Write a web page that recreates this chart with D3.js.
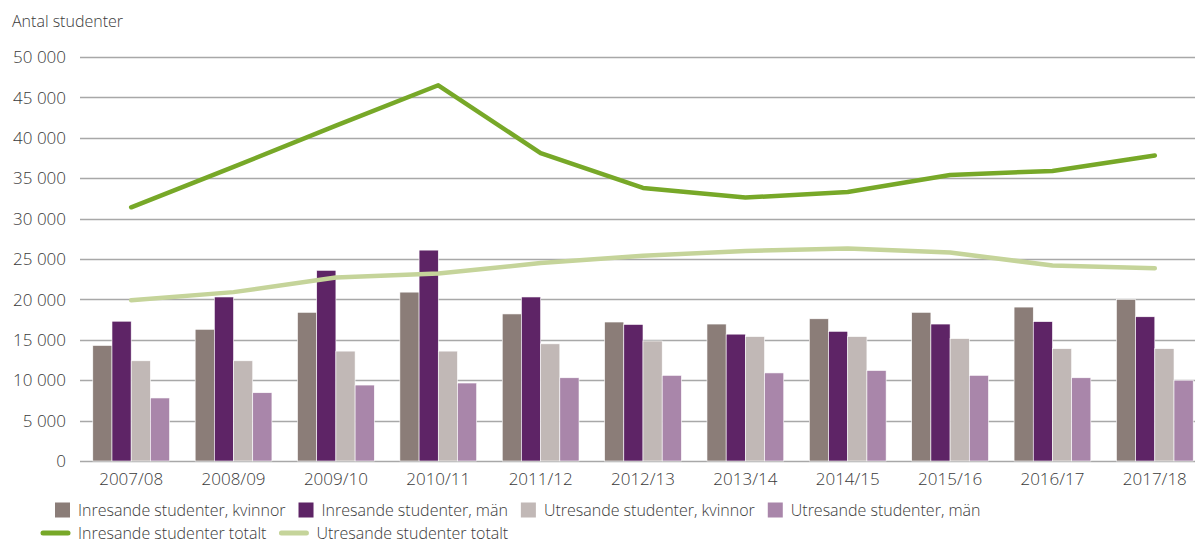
<!DOCTYPE html>
<html>
<head>
<meta charset="utf-8">
<script src="https://cdn.jsdelivr.net/npm/d3@7"></script>
<style>
  body { margin: 0; background: #fff; }
  svg text { font-family: "Open Sans", "Lato", sans-serif; font-weight: 300; fill: #3a3a3a; }
</style>
</head>
<body>
<div id="chart"></div>
<script>
// data
var years = ["2007/08", "2008/09", "2009/10", "2010/11", "2011/12", "2012/13",
             "2013/14", "2014/15", "2015/16", "2016/17", "2017/18"];
var inKvinnor = [14300, 16300, 18400, 20900, 18200, 17200, 16950, 17600, 18400, 19050, 20000];
var inMan     = [17300, 20300, 23600, 26100, 20300, 16900, 15700, 16050, 16950, 17250, 17850];
var utKvinnor = [12400, 12400, 13600, 13600, 14500, 14850, 15400, 15400, 15150, 13900, 13900];
var utMan     = [7800, 8450, 9400, 9650, 10300, 10600, 10900, 11200, 10600, 10300, 10000];
var inTotalt  = [31400, 36400, 41500, 46500, 38100, 33800, 32600, 33300, 35400, 35900, 37800];
var utTotalt  = [19900, 20900, 22700, 23200, 24500, 25400, 26000, 26300, 25800, 24200, 23850];
var yTicks = [0, 5000, 10000, 15000, 20000, 25000, 30000, 35000, 40000, 45000, 50000];

var barSeries = [
  { name: "Inresande studenter, kvinnor", values: inKvinnor, color: "#8b7d78" },
  { name: "Inresande studenter, män",     values: inMan,     color: "#5e2466" },
  { name: "Utresande studenter, kvinnor", values: utKvinnor, color: "#c1b8b6" },
  { name: "Utresande studenter, män",     values: utMan,     color: "#a986aa" }
];
var lineSeries = [
  { name: "Inresande studenter totalt", values: inTotalt, color: "#77a828" },
  { name: "Utresande studenter totalt", values: utTotalt, color: "#c5d49a" }
];

var W = 1195, H = 545;
var margin = { top: 57, left: 80, bottom: 84 };
var plotRight = 1206;

var svg = d3.select("#chart").append("svg")
  .attr("width", W).attr("height", H);

var x = d3.scaleBand()
  .domain(years)
  .range([margin.left, plotRight])
  .paddingInner(0).paddingOuter(0);

var y = d3.scaleLinear()
  .domain([0, 50000])
  .range([H - margin.bottom, margin.top]);

var fmt = function(v) {
  return v === 0 ? "0" : d3.format(",")(v).replace(/,/g, " ");
};

// gridlines
svg.append("g").selectAll("line")
  .data(yTicks).enter().append("line")
  .attr("x1", margin.left).attr("x2", W)
  .attr("y1", function(d) { return Math.round(y(d)) + 0.5; })
  .attr("y2", function(d) { return Math.round(y(d)) + 0.5; })
  .attr("stroke", "#a8a8a8")
  .attr("stroke-width", 1.3);

// y labels
svg.append("g").selectAll("text")
  .data(yTicks).enter().append("text")
  .attr("x", 66)
  .attr("y", function(d) { return y(d); })
  .attr("dy", "0.36em")
  .attr("text-anchor", "end")
  .attr("font-size", "17px")
  .text(fmt);

svg.append("text")
  .attr("x", 12).attr("y", 27)
  .attr("font-size", "16px")
  .text("Antal studenter");

// bars
var groupW = x.bandwidth() * 0.75;
var x1 = d3.scaleBand()
  .domain(d3.range(barSeries.length))
  .range([-groupW / 2, groupW / 2]);

var groups = svg.append("g").selectAll("g")
  .data(years).enter().append("g")
  .attr("transform", function(d) { return "translate(" + (x(d) + x.bandwidth() / 2) + ",0)"; });

groups.selectAll("rect")
  .data(function(d, i) {
    return barSeries.map(function(s, k) { return { k: k, v: s.values[i], color: s.color }; });
  })
  .enter().append("rect")
  .attr("x", function(d) { return x1(d.k); })
  .attr("width", x1.bandwidth())
  .attr("y", function(d) { return y(d.v); })
  .attr("height", function(d) { return y(0) - y(d.v); })
  .attr("fill", function(d) { return d.color; })
  .attr("stroke", "#fff")
  .attr("stroke-width", 0.6);

// lines
var line = d3.line()
  .x(function(d, i) { return x(years[i]) + x.bandwidth() / 2; })
  .y(function(d) { return y(d); });

svg.append("g").selectAll("path")
  .data(lineSeries.slice().reverse()).enter().append("path")
  .attr("d", function(d) { return line(d.values); })
  .attr("fill", "none")
  .attr("stroke", function(d) { return d.color; })
  .attr("stroke-width", 4.5)
  .attr("stroke-linecap", "round")
  .attr("stroke-linejoin", "round");

// x labels
svg.append("g").selectAll("text")
  .data(years).enter().append("text")
  .attr("x", function(d) { return x(d) + x.bandwidth() / 2; })
  .attr("y", 485)
  .attr("text-anchor", "middle")
  .attr("font-size", "17px")
  .text(function(d) { return d; });

// legend - items laid out after each other, like the reference
function legendRow(items, y0, startX, drawKey) {
  var cx = startX;
  items.forEach(function(s) {
    var g = svg.append("g").attr("transform", "translate(" + cx + "," + y0 + ")");
    var keyW = drawKey(g, s);
    var t = g.append("text").attr("x", keyW + 8).attr("y", 0).attr("dy", "0.36em")
      .attr("font-size", "16px")
      .text(s.name);
    cx += keyW + 8 + t.node().getComputedTextLength() + 13;
  });
}

legendRow(barSeries, 510, 55, function(g, s) {
  g.append("rect").attr("y", -7.5).attr("width", 15).attr("height", 15).attr("fill", s.color);
  return 15;
});

legendRow(lineSeries, 533, 41, function(g, s) {
  g.append("line").attr("x1", 2).attr("x2", 27)
    .attr("stroke", s.color)
    .attr("stroke-width", 5).attr("stroke-linecap", "round");
  return 29;
});
</script>
</body>
</html>
